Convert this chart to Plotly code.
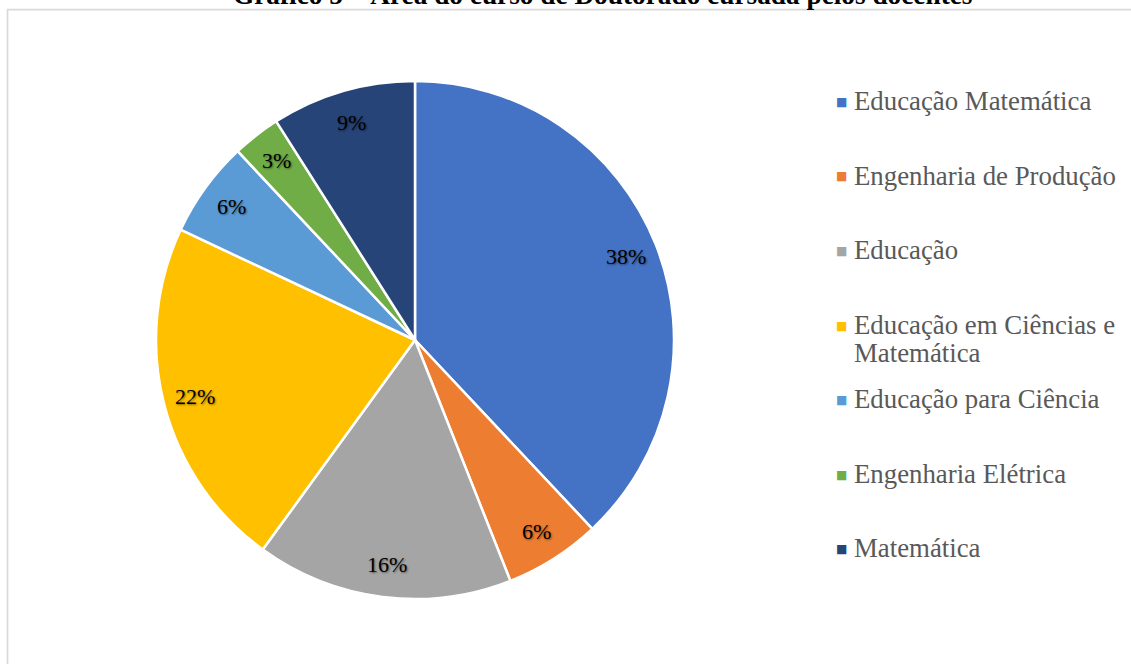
import numpy as np
import plotly.graph_objects as go

W, H = 1131, 664

categories = [
    "Educação Matemática",
    "Engenharia de Produção",
    "Educação",
    "Educação em Ciências e<br>Matemática",
    "Educação para Ciência",
    "Engenharia Elétrica",
    "Matemática",
]
values = [38, 6, 16, 22, 6, 3, 9]
colors = ["#4472C4", "#ED7D31", "#A5A5A5", "#FFC000", "#5B9BD5", "#70AD47", "#264478"]
title_text = "Gráfico 5 – Área do curso de Doutorado cursada pelos docentes"

# pie geometry (pixels)
cx, cy, R = 415, 340, 259
label_r = 0.875

fig = go.Figure(
    go.Pie(
        labels=[c.replace("<br>", " ") for c in categories],
        values=values,
        sort=False,
        direction="clockwise",
        rotation=0,
        marker=dict(colors=colors, line=dict(color="white", width=2.5)),
        textinfo="none",
        hoverinfo="label+percent",
        showlegend=False,
        domain=dict(x=[(cx - R) / W, (cx + R) / W], y=[1 - (cy + R) / H, 1 - (cy - R) / H]),
    )
)

annotations = []
# data labels at "inside end" positions, derived from the values
vals = np.array(values, dtype=float)
total = vals.sum()
cum = np.cumsum(vals) - vals / 2
for v, m in zip(vals, cum):
    th = 2 * np.pi * m / total
    px = cx + label_r * R * np.sin(th)
    py = cy - label_r * R * np.cos(th)
    annotations.append(dict(
        x=px / W, y=1 - py / H, xref="paper", yref="paper",
        text=f"{round(100 * v / total)}%", showarrow=False,
        font=dict(family="Liberation Serif", size=22, color="#000000",
                  shadow="1px 1px 2px rgba(0,0,0,0.45)"),
        xanchor="center", yanchor="middle",
    ))

# legend (manual, to keep the even slot spacing of the source)
leg_top, leg_step, leg_line = 100.5, 74.5, 28
leg_fs = 26.8
for i, (c, col) in enumerate(zip(categories, colors)):
    yc = leg_top + i * leg_step
    annotations.append(dict(
        x=841 / W, y=1 - (yc + 1.5) / H, xref="paper", yref="paper", text="■",
        showarrow=False, font=dict(family="DejaVu Sans", size=12, color=col),
        xanchor="center", yanchor="middle",
    ))
    for j, line in enumerate(c.split("<br>")):
        annotations.append(dict(
            x=852 / W, y=1 - (yc + j * leg_line - 0.61 * leg_fs) / H,
            xref="paper", yref="paper",
            text=line, showarrow=False, align="left",
            font=dict(family="Liberation Serif", size=leg_fs, color="#595959"),
            xanchor="left", yanchor="top",
        ))

# title (partly cut off at top, as in the source)
annotations.append(dict(
    x=603 / W, y=1 - 12 / H, xref="paper", yref="paper",
    text=f"<b>{title_text}</b>", showarrow=False,
    font=dict(family="Liberation Serif", size=27.3, color="#000000"),
    xanchor="center", yanchor="bottom",
))

fig.update_layout(
    width=W, height=H,
    margin=dict(l=0, r=0, t=0, b=0),
    paper_bgcolor="white", plot_bgcolor="white",
    annotations=annotations,
    shapes=[dict(type="rect", xref="paper", yref="paper",
                 x0=7.5 / W, x1=1.2, y0=-0.2, y1=1 - 9.7 / H,
                 line=dict(color="#D9D9D9", width=1.7), layer="below")],
)

fig.write_html("out.html")
